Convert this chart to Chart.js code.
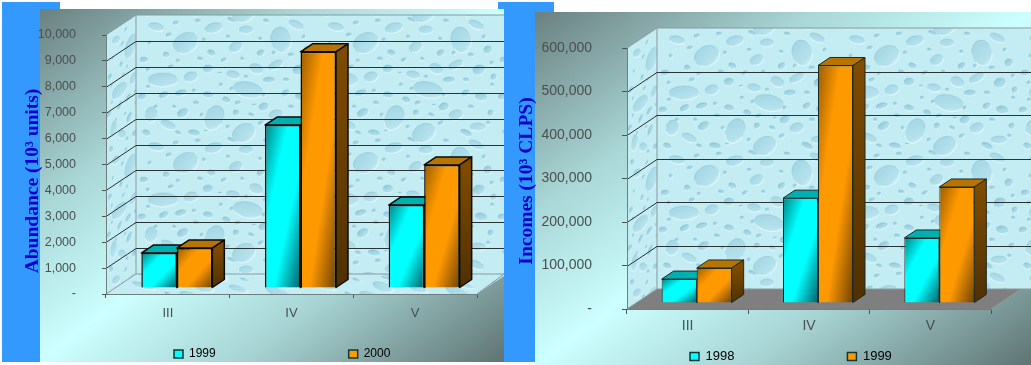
<!DOCTYPE html>
<html>
<head>
<meta charset="utf-8">
<title>Abundance and incomes</title>
<script src="https://cdn.jsdelivr.net/npm/chart.js@4/dist/chart.umd.min.js"></script>
<style>
  html, body { margin: 0; padding: 0; background: #fff; }
  #page { position: relative; width: 1031px; height: 365px; overflow: hidden; }
  #page div, #page canvas { position: absolute; }
  .blue { background: #3399ff; }
  .panel { background: linear-gradient(to bottom right, #6a8080 0%, #a9d6d6 28%, #ccffff 50%, #a6d2d2 72%, #5f7473 100%); }
</style>
</head>
<body>
<div id="page">
  <div class="blue" style="left:2px;top:2px;width:58px;height:8px"></div>
  <div class="blue" style="left:2px;top:2px;width:38px;height:360px"></div>
  <div class="blue" style="left:498px;top:2px;width:56px;height:11px"></div>
  <div class="blue" style="left:503px;top:2px;width:32px;height:360px"></div>
  <div class="panel" style="left:40px;top:9px;width:464px;height:353px"></div>
  <div class="panel" style="left:535px;top:12px;width:496px;height:353px"></div>
  <canvas id="abundance" width="524" height="365" style="left:-20px;top:0"></canvas>
  <canvas id="incomes" width="528" height="365" style="left:503px;top:0"></canvas>
</div>
<script>
// Monthly categories shared by both charts
const categories = ['III', 'IV', 'V'];

// Abundance, thousands of units
const abundanceYears = ['1999', '2000'];
const abundance1999 = [1350, 6290, 3200];
const abundance2000 = [1540, 9120, 4750];
const abundanceTicks = 1000;
const abundanceMax = 10000;

// Incomes, thousands of CLPS
const incomesYears = ['1998', '1999'];
const incomes1998 = [55000, 241000, 149500];
const incomes1999 = [80500, 546000, 266700];
const incomesTicks = 100000;
const incomesMax = 600000;

// One repeat of the droplet wall texture: x, y, radius x, radius y
const TILE_W = 180, TILE_H = 120;
const droplets = [
  [50,28,13,10],[145,25,10,13],[27,65,15,7],[112,75,15,8],[78,103,9,13],[108,118,12,9],
  [78,13,9,5],[110,15,7,4],[20,12,8,4],[160,10,8,4],[100,32,7,5],[55,62,7,5],[72,54,5,4],
  [97,60,7,4],[120,54,7,5],[140,50,8,4],[163,55,6,5],[133,65,6,3],[15,100,6,8],[32,110,8,4],
  [47,98,6,4],[140,100,7,5],[162,112,8,4],[165,82,6,4],[150,118,6,3],[28,80,5,3],[45,78,6,3],
  [8,45,4,3],[30,40,3,3],[75,38,4,3],[125,38,4,3],[172,35,4,4],[6,82,4,3],[72,80,5,3],
  [90,85,4,3],[150,78,4,3],[128,92,5,4],[100,98,3,3],[58,118,6,3],[10,118,4,3],[178,62,3,3],
  [40,8,3,2],[62,6,3,2],[130,6,3,2],[95,5,4,2],[88,45,3,2],[35,52,3,2],[155,40,3,2],
  [60,88,3,2],[115,100,3,2],[175,98,3,3],[20,92,2,2],[85,70,2,2],[150,65,3,2],[42,118,3,2],
  [14,28,2,2],[33,20,3,2],[68,25,2,2],[92,22,2,2],[124,24,2,2],[168,22,2,2],[12,55,2,2],
  [42,46,2,2],[64,44,3,2],[106,44,2,2],[138,38,2,2],[176,48,2,2],[84,58,2,1],[110,62,2,2],
  [176,70,2,2],[128,80,2,2],[96,74,2,2],[58,76,2,2],[12,72,2,2],[38,92,2,2],[66,100,2,2],
  [102,88,3,2],[118,90,2,1],[155,92,3,2],[172,108,2,2],[125,108,3,2],[92,112,2,2],[70,116,2,1]
];

function makeTile() {
  const c = document.createElement('canvas');
  c.width = TILE_W; c.height = TILE_H;
  const g = c.getContext('2d');
  g.fillStyle = '#c4ecf3';
  g.fillRect(0, 0, TILE_W, TILE_H);
  g.filter = 'blur(0.6px)';
  droplets.forEach(([x0, y0, rx, ry], n) => {
    const tilt = (n % 5 - 2) * 0.22;
    const big = Math.max(rx, ry) >= 7;
    for (const ox of [-TILE_W, 0, TILE_W]) for (const oy of [-TILE_H, 0, TILE_H]) {
      g.save();
      g.translate(x0 + ox, y0 + oy);
      g.rotate(tilt);
      g.scale(rx, ry);
      const fill = g.createLinearGradient(-0.6, -1, 0.6, 1);
      fill.addColorStop(0, big ? 'rgba(140,198,216,0.6)' : 'rgba(120,186,206,0.75)');
      fill.addColorStop(0.75, big ? 'rgba(160,212,228,0.45)' : 'rgba(150,205,222,0.45)');
      fill.addColorStop(1, 'rgba(225,247,251,0.4)');
      g.fillStyle = fill;
      g.beginPath(); g.arc(0, 0, 1, 0, Math.PI * 2); g.fill();
      g.restore();
      g.save();
      g.translate(x0 + ox, y0 + oy);
      g.rotate(tilt);
      g.strokeStyle = 'rgba(240,253,255,0.6)';
      g.lineWidth = big ? 1.2 : 0.9;
      g.beginPath(); g.ellipse(0, 0, rx, ry, 0, Math.PI * 0.05, Math.PI * 0.8); g.stroke();
      g.strokeStyle = 'rgba(120,180,202,0.4)';
      g.lineWidth = 0.8;
      g.beginPath(); g.ellipse(0, 0, rx, ry, 0, Math.PI * 1.05, Math.PI * 1.85); g.stroke();
      g.restore();
    }
  });
  return c;
}
const wallTile = makeTile();

const FILL = {
  cyan:   { dark: '#008585', bright: '#00ffff', end: '#005f68', top: '#00b0b0', side: '#007a7a' },
  orange: { dark: '#9a5c00', bright: '#ff9900', end: '#6f4200', top: '#b87400', side: '#7f4c00' }
};

// Diagonal sheen across a bar face, whose bands follow the opposite diagonal
function faceGradient(ctx, x0, y0, w, h, tone) {
  const len = Math.hypot(w, h) || 1;
  const reach = 2 * w * h / len;
  const g = ctx.createLinearGradient(x0, y0, x0 + h / len * reach, y0 + w / len * reach);
  g.addColorStop(0, tone.dark);
  g.addColorStop(0.32, tone.bright);
  g.addColorStop(0.62, tone.bright);
  g.addColorStop(1, tone.end);
  return g;
}

// Perspective walls, floor, gridlines, bar depth and the rotated axis title
const depthPlugin = {
  id: 'depth3d',
  beforeDraw(chart, _a, o) {
    const { ctx, chartArea: ca, scales: { y } } = chart;
    const { dx, dy, clipRight, floor } = o;
    const tile = ctx.createPattern(wallTile, 'repeat');
    ctx.save();
    ctx.beginPath();
    ctx.rect(0, 0, clipRight, chart.height);
    ctx.clip();

    // back wall
    ctx.save();
    ctx.translate(ca.left + dx, ca.top - dy);
    ctx.fillStyle = tile;
    ctx.fillRect(0, 0, clipRight, ca.bottom - ca.top);
    ctx.restore();

    // side wall, sheared towards the viewer
    ctx.save();
    ctx.beginPath();
    ctx.moveTo(ca.left, ca.bottom); ctx.lineTo(ca.left + dx, ca.bottom - dy);
    ctx.lineTo(ca.left + dx, ca.top - dy); ctx.lineTo(ca.left, ca.top);
    ctx.closePath(); ctx.clip();
    ctx.transform(0.5, -dy / 60, 0, 1, ca.left, ca.top);
    ctx.fillStyle = tile;
    ctx.fillRect(-10, -60, 90, 400);
    ctx.restore();

    // floor
    ctx.beginPath();
    ctx.moveTo(ca.left, ca.bottom); ctx.lineTo(ca.right, ca.bottom);
    ctx.lineTo(ca.right + dx, ca.bottom - dy); ctx.lineTo(ca.left + dx, ca.bottom - dy);
    ctx.closePath();
    if (floor) {
      ctx.fillStyle = floor;
      ctx.fill();
    } else {
      ctx.save(); ctx.clip();
      ctx.transform(1, 0, dx / dy, 1, ca.left, ca.bottom - dy);
      ctx.fillStyle = tile;
      ctx.fillRect(-60, 0, clipRight + 120, dy + 2);
      ctx.restore();
    }

    // wall outlines
    ctx.strokeStyle = '#8a9a9c';
    ctx.lineWidth = 1;
    ctx.beginPath();
    ctx.moveTo(ca.left, ca.top); ctx.lineTo(ca.left + dx, ca.top - dy); ctx.lineTo(clipRight, ca.top - dy);
    ctx.moveTo(ca.left + dx, ca.top - dy); ctx.lineTo(ca.left + dx, ca.bottom - dy);
    ctx.moveTo(ca.left, ca.bottom); ctx.lineTo(ca.left + dx, ca.bottom - dy); ctx.lineTo(clipRight, ca.bottom - dy);
    ctx.moveTo(ca.right, ca.bottom); ctx.lineTo(Math.min(ca.right + dx, clipRight), ca.bottom - dy);
    ctx.stroke();

    // gridlines running up the side wall and across the back wall
    ctx.strokeStyle = '#2a3336';
    ctx.beginPath();
    for (const t of y.ticks) {
      if (t.value === 0 || t.value === y.max) continue;
      const py = Math.round(y.getPixelForValue(t.value)) + 0.5;
      ctx.moveTo(ca.left, py);
      ctx.lineTo(ca.left + dx, py - dy);
      ctx.lineTo(clipRight, py - dy);
    }
    ctx.stroke();
    ctx.restore();

    // axis title sits on the blue strip
    ctx.save();
    ctx.translate(o.titleX, o.titleY);
    ctx.rotate(-Math.PI / 2);
    ctx.font = o.titleFont;
    ctx.fillStyle = '#0000cc';
    ctx.textAlign = 'center';
    ctx.textBaseline = 'middle';
    ctx.fillText(o.title, 0, 0);
    ctx.restore();
  },
  beforeDatasetsDraw(chart, _a, o) {
    const { ctx } = chart;
    ctx.save();
    ctx.translate(o.barDx, -o.barDy);
    ctx.lineWidth = o.edge;
    ctx.strokeStyle = o.edgeColor;
    ctx.lineJoin = 'round';
    chart.data.datasets.forEach((ds, i) => {
      const tone = FILL[ds.tone];
      chart.getDatasetMeta(i).data.forEach(bar => {
        const l = bar.x - bar.width / 2, r = bar.x + bar.width / 2;
        const t = bar.y, b = bar.base;
        ctx.beginPath();
        ctx.moveTo(l, t); ctx.lineTo(l + o.barDepthX, t - o.barDepthY);
        ctx.lineTo(r + o.barDepthX, t - o.barDepthY); ctx.lineTo(r, t); ctx.closePath();
        ctx.fillStyle = tone.top;
        ctx.fill(); ctx.stroke();
        const shade = ctx.createLinearGradient(r, t, r + o.barDepthX, b);
        shade.addColorStop(0, tone.side);
        shade.addColorStop(1, '#4f3000');
        ctx.beginPath();
        ctx.moveTo(r, t); ctx.lineTo(r + o.barDepthX, t - o.barDepthY);
        ctx.lineTo(r + o.barDepthX, b - o.barDepthY); ctx.lineTo(r, b); ctx.closePath();
        ctx.fillStyle = i === 1 ? shade : tone.side;
        ctx.fill(); ctx.stroke();
      });
    });
  },
  afterDatasetsDraw(chart) {
    chart.ctx.restore();
  },
  afterLayout(chart, _a, o) {
    // the legend is pinned to its own row, well clear of the axis labels
    const lg = chart.legend;
    const pad = chart.options.plugins.legend.labels.padding;
    lg.left = o.legendX - pad;
    lg.top = o.legendY - pad;
    lg.right = chart.width + 300;
    lg.bottom = chart.height;
  }
};

function barColor(tone) {
  return c => {
    const { chart, dataset, dataIndex } = c;
    const s = chart.scales;
    if (!s || !s.x || !s.y || !chart.chartArea) return FILL[tone].bright;
    const v = dataset.data[dataIndex];
    const step = (s.x.getPixelForTick(1) - s.x.getPixelForTick(0));
    const w = step * chart.options.datasets.bar.categoryPercentage / 2;
    const xc = s.x.getPixelForValue(dataIndex) + (c.datasetIndex === 0 ? -w / 2 : w / 2);
    const top = s.y.getPixelForValue(v), base = s.y.getPixelForValue(0);
    return faceGradient(chart.ctx, xc - w / 2, top, w, base - top, FILL[tone]);
  };
}

function buildChart(id, cfg) {
  return new Chart(document.getElementById(id), {
    type: 'bar',
    plugins: [depthPlugin],
    data: {
      labels: categories,
      datasets: cfg.series.map((values, i) => ({
        label: cfg.years[i],
        data: values,
        tone: i === 0 ? 'cyan' : 'orange',
        backgroundColor: barColor(i === 0 ? 'cyan' : 'orange'),
        borderColor: cfg.edgeColor,
        borderWidth: cfg.edge
      }))
    },
    options: {
      responsive: false,
      animation: false,
      events: [],
      datasets: { bar: { categoryPercentage: cfg.catPct, barPercentage: 1 } },
      layout: { padding: { left: cfg.padLeft, right: cfg.padRight, top: cfg.padTop, bottom: cfg.padBottom } },
      plugins: {
        tooltip: { enabled: false },
        title: { display: false },
        legend: {
          position: 'bottom',
          align: 'start',
          maxHeight: 20,
          labels: {
            boxWidth: 9, boxHeight: 8, padding: cfg.legendGap,
            color: cfg.textColor,
            font: { family: '"Liberation Sans", Arial, sans-serif', size: cfg.legendSize },
            generateLabels: chart => chart.data.datasets.map((ds, i) => ({
              text: ds.label,
              fillStyle: FILL[ds.tone].bright,
              strokeStyle: '#0b3a3a',
              lineWidth: 1.5,
              datasetIndex: i
            }))
          }
        },
        depth3d: cfg.depth
      },
      scales: {
        x: {
          afterFit: s => { s.height = cfg.xHeight; },
          border: { color: '#6f7f80', width: 1 },
          grid: { offset: true, drawOnChartArea: false, tickLength: cfg.tickLen, color: '#4a5556' },
          ticks: { color: cfg.textColor, padding: cfg.xPad, font: { family: '"Liberation Sans", Arial, sans-serif', size: cfg.xSize } }
        },
        y: {
          min: 0, max: cfg.max,
          afterFit: s => { s.width = cfg.yWidth; },
          border: { color: '#6f7f80', width: 1 },
          grid: { drawOnChartArea: false, tickLength: cfg.tickLen, color: '#4a5556' },
          ticks: {
            stepSize: cfg.step,
            color: cfg.textColor,
            padding: cfg.yPad,
            font: { family: '"Liberation Sans", Arial, sans-serif', size: cfg.tickSize },
            callback: v => v === 0 ? '-' : v.toLocaleString('en-US')
          }
        }
      }
    }
  });
}

buildChart('abundance', {
  years: abundanceYears, series: [abundance1999, abundance2000],
  max: abundanceMax, step: abundanceTicks,
  catPct: 0.574, edge: 1.5, edgeColor: '#0a0a0a',
  padLeft: 0, padRight: 27, padTop: 35, padBottom: 21,
  yWidth: 126, xHeight: 30, tickLen: 4, yPad: 26, xPad: 8,
  tickSize: 12.5, xSize: 13, legendSize: 12, legendGap: 133, textColor: '#4a4f50',
  depth: {
    dx: 30, dy: 20, clipRight: 524, floor: null,
    barDx: 9, barDy: 6, barDepthX: 12, barDepthY: 8,
    edge: 1.5, edgeColor: '#0a0a0a',
    legendX: 194, legendY: 348,
    title: 'Abundance (10³ units)', titleFont: 'bold 19.5px "Liberation Serif", serif', titleX: 53, titleY: 181
  }
});

buildChart('incomes', {
  years: incomesYears, series: [incomes1998, incomes1999],
  max: incomesMax, step: incomesTicks,
  catPct: 0.577, edge: 1, edgeColor: '#1a2a2a',
  padLeft: 20, padRight: 40, padTop: 48, padBottom: 6,
  yWidth: 104, xHeight: 30, tickLen: 5, yPad: 30, xPad: 4,
  tickSize: 14, xSize: 14, legendSize: 13, legendGap: 113, textColor: '#4a4f50',
  depth: {
    dx: 30, dy: 20, clipRight: 528, floor: '#7f7f7f',
    barDx: 9, barDy: 6, barDepthX: 12, barDepthY: 8,
    edge: 1, edgeColor: '#1a2a2a',
    legendX: 187, legendY: 350,
    title: 'Incomes (10³ CLPS)', titleFont: 'bold 19.5px "Liberation Serif", serif', titleX: 24, titleY: 181
  }
});
</script>
</body>
</html>
